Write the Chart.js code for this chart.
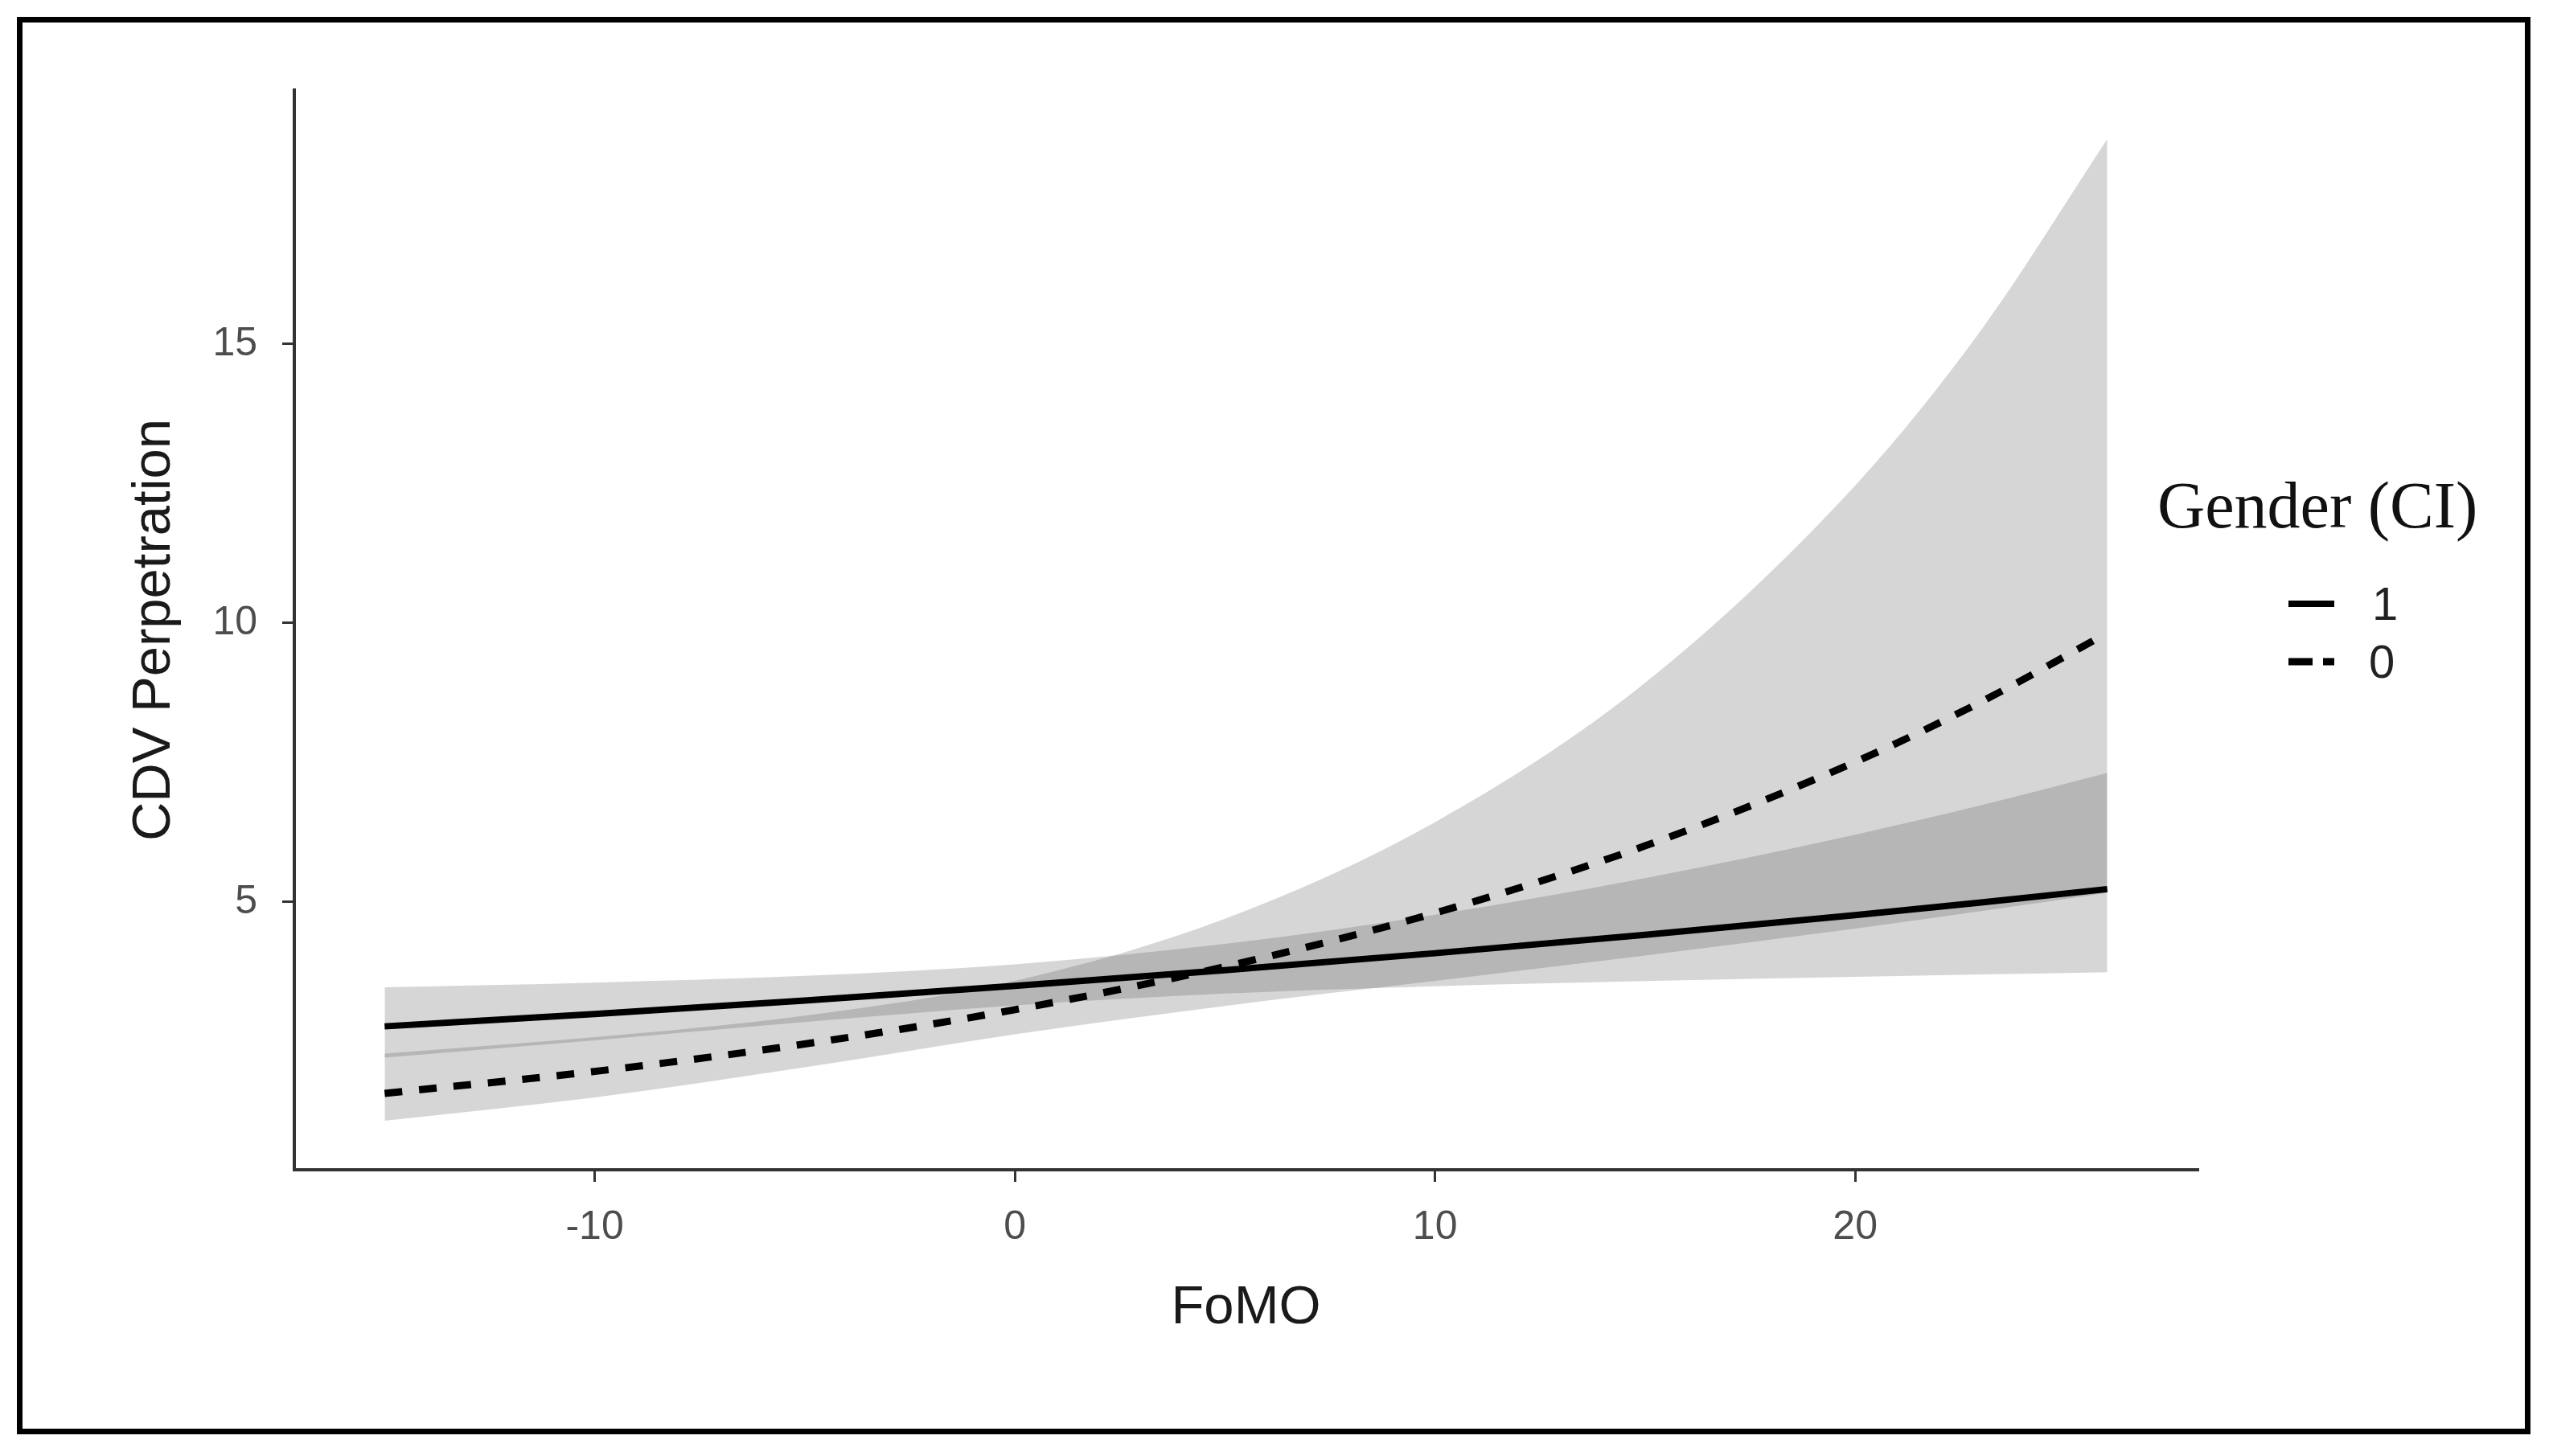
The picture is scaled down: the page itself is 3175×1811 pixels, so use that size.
<!DOCTYPE html>
<html>
<head>
<meta charset="utf-8">
<script src="https://cdn.jsdelivr.net/npm/chart.js@4.4.0/dist/chart.umd.min.js"></script>
<style>
html,body{margin:0;padding:0;background:#ffffff;}
#wrap{position:relative;width:3175px;height:1811px;background:#fff;}
#frame{position:absolute;left:21px;top:21px;width:3126px;height:1763px;border:7px solid #000;box-sizing:border-box;pointer-events:none;}
canvas{position:absolute;left:0;top:0;}
</style>
</head>
<body>
<div id="wrap">
<canvas id="c" width="3175" height="1811"></canvas>
<div id="frame"></div>
</div>
<script>
// ---- data ----
const fomo   = [-15, -10, -5, 0, 5, 10, 15, 20, 23, 26];
const mean1  = [2.770, 2.993, 3.234, 3.495, 3.777, 4.081, 4.410, 4.765, 4.992, 5.230];
const lower1 = [2.211, 2.520, 2.846, 3.145, 3.358, 3.490, 3.583, 3.659, 3.701, 3.741];
const upper1 = [3.470, 3.554, 3.675, 3.883, 4.248, 4.772, 5.428, 6.206, 6.733, 7.311];
const mean0  = [1.570, 1.963, 2.455, 3.070, 3.840, 4.802, 6.005, 7.509, 8.587, 9.820];
const lower0 = [1.080, 1.497, 2.036, 2.628, 3.137, 3.586, 4.039, 4.524, 4.835, 5.165];
const upper0 = [2.282, 2.576, 2.961, 3.587, 4.700, 6.429, 8.926, 12.463, 15.249, 18.670];
const xTicks = [-10, 0, 10, 20];
const yTicks = [5, 10, 15];
const xTitle = 'FoMO';
const yTitle = 'CDV Perpetration';
const legendTitle = 'Gender (CI)';
const legendLabels = ['1', '0'];

const pts = arr => arr.map((v, i) => ({x: fomo[i], y: v}));
const bandFill = 'rgba(51,51,51,0.2)';

const common = {pointRadius: 0, pointHoverRadius: 0, cubicInterpolationMode: 'monotone'};

const datasets = [
  Object.assign({label: 'lo1', data: pts(lower1), borderWidth: 0, borderColor: 'rgba(0,0,0,0)', fill: false, order: 5}, common),
  Object.assign({label: 'hi1', data: pts(upper1), borderWidth: 0, borderColor: 'rgba(0,0,0,0)', backgroundColor: bandFill, fill: '-1', order: 5}, common),
  Object.assign({label: 'lo0', data: pts(lower0), borderWidth: 0, borderColor: 'rgba(0,0,0,0)', fill: false, order: 5}, common),
  Object.assign({label: 'hi0', data: pts(upper0), borderWidth: 0, borderColor: 'rgba(0,0,0,0)', backgroundColor: bandFill, fill: '-1', order: 5}, common),
  Object.assign({label: legendLabels[0], data: pts(mean1), borderWidth: 8, borderColor: '#000', fill: false, order: 1, borderCapStyle: 'butt'}, common),
  Object.assign({label: legendLabels[1], data: pts(mean0), borderWidth: 9, borderColor: '#000', borderDash: [22, 21], fill: false, order: 0, borderCapStyle: 'butt'}, common)
];

const legendPlugin = {
  id: 'ggLegend',
  afterDraw(chart) {
    const ctx = chart.ctx;
    ctx.save();
    ctx.fillStyle = '#111';
    ctx.textAlign = 'left';
    ctx.textBaseline = 'alphabetic';
    ctx.font = '82px "Liberation Serif"';
    ctx.fillText(legendTitle, 2683, 656);
    ctx.font = '58px "Liberation Sans"';
    ctx.fillStyle = '#222';
    ctx.fillText(legendLabels[0], 2950, 771);
    ctx.fillText(legendLabels[1], 2946, 843);
    ctx.strokeStyle = '#000';
    ctx.lineCap = 'butt';
    ctx.lineWidth = 8;
    ctx.beginPath(); ctx.moveTo(2846, 751); ctx.lineTo(2903, 751); ctx.stroke();
    ctx.lineWidth = 9;
    ctx.setLineDash([30, 13]);
    ctx.beginPath(); ctx.moveTo(2846, 823); ctx.lineTo(2903, 823); ctx.stroke();
    ctx.restore();
  }
};

new Chart(document.getElementById('c'), {
  type: 'line',
  data: {datasets},
  plugins: [legendPlugin],
  options: {
    responsive: false,
    animation: false,
    devicePixelRatio: 1,
    layout: {padding: {left: 0, top: 112, right: 442, bottom: 0}},
    plugins: {legend: {display: false}, tooltip: {enabled: false}, filler: {propagate: false}},
    elements: {line: {tension: 0}},
    scales: {
      x: {
        type: 'linear', min: -17.15, max: 28.15,
        afterFit(s) { s.height = 356; },
        afterBuildTicks(s) { s.ticks = xTicks.map(v => ({value: v})); },
        ticks: {font: {family: 'Liberation Sans', size: 50}, color: '#4d4d4d', padding: 27, maxRotation: 0, autoSkip: false},
        grid: {display: true, drawOnChartArea: false, drawTicks: true, tickLength: 15, color: '#333', lineWidth: 3},
        border: {display: true, color: '#333', width: 4},
        title: {display: true, text: xTitle, font: {family: 'Liberation Sans', size: 67}, color: '#1a1a1a', padding: {top: 0, bottom: 143}}
      },
      y: {
        type: 'linear', min: 0.2, max: 19.55,
        afterFit(s) { s.width = 366; },
        afterBuildTicks(s) { s.ticks = yTicks.map(v => ({value: v})); },
        ticks: {font: {family: 'Liberation Sans', size: 50}, color: '#4d4d4d', padding: 31, autoSkip: false},
        grid: {display: true, drawOnChartArea: false, drawTicks: true, tickLength: 15, color: '#333', lineWidth: 3},
        border: {display: true, color: '#333', width: 4},
        title: {display: true, text: yTitle, font: {family: 'Liberation Sans', size: 67}, color: '#1a1a1a', padding: {top: 152, bottom: 0}}
      }
    }
  }
});
</script>
</body>
</html>
